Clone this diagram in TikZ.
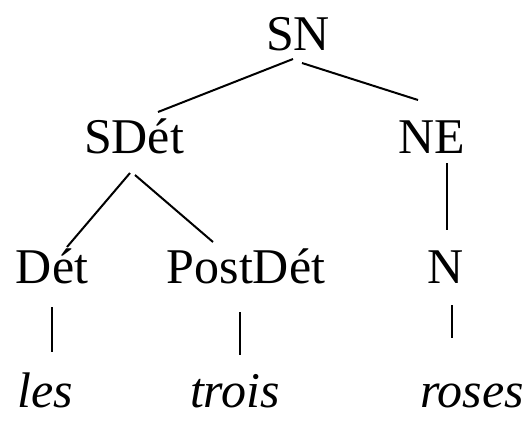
\documentclass[tikz,border=0pt]{standalone}
\usepackage{fontspec}
\setmainfont{Liberation Serif}

\begin{document}
\begin{tikzpicture}[x = 1pt, y = -1pt]
		\tikzstyle{every node} = [font = \fontsize{50}{60}\selectfont, inner sep = 0, anchor = base]
		\tikzstyle{branch} = [line width = 2pt]
		
		\useasboundingbox (0,0) rectangle (524,421);
		
		\node (SN) at (298,50) {SN};
		\node (SDet) at (134,153) {SDét};
		\node (NE) at (432,153) {NE};
		\node (Det) at (52,283) {Dét};
		\node (PostDet) at (246,283) {PostDét};
		\node (N) at (446,283) {N};
		\node (les) at (45,407) {\itshape les};
		\node (trois) at (235,407) {\itshape trois};
		\node (roses) at (472,407) {\itshape roses};
		
		\draw [branch] ([shift={(-5,9)}]SN.base) -- ([shift={(24,-41)}]SDet.base); %SN to SDet
		\draw [branch] ([shift={(4,13)}]SN.base) -- ([shift={(-14,-53)}]NE.base); %SN to NE
		\draw [branch] ([shift={(-4,20)}]SDet.base) -- ([shift={(15,-36)}]Det.base); %SDet to Det
		\draw [branch] ([shift={(1,22)}]SDet.base) -- ([shift={(-33,-41)}]PostDet.base); %SDet to PostDet
		\draw [branch] ([shift={(15,10)}]NE.base) -- ([shift={(1,-53)}]N.base); %NE to N
		
		\draw [branch] ([shift={(0,24)}]Det.base) -- ([shift={(7,-55)}]les.base); %Det to les
		\draw [branch] ([shift={(-6,29)}]PostDet.base) -- ([shift={(5,-52)}]trois.base); %PostDet to trois
		\draw [branch] ([shift={(6,22)}]N.base) -- ([shift={(-20,-69)}]roses.base); %N to roses
	\end{tikzpicture}
\end{document}
